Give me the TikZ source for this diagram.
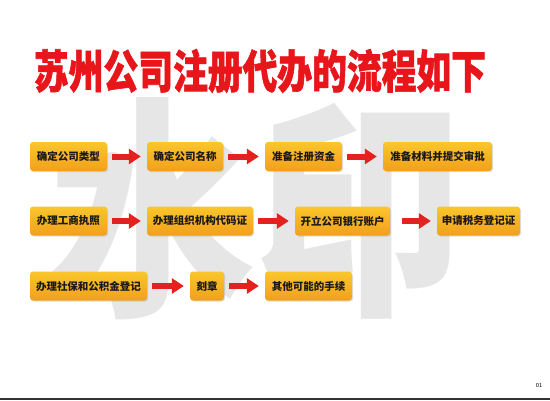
\documentclass[tikz,border=0pt]{standalone}
\usepackage{fontspec}
\setmainfont{Noto Sans CJK SC}
\newfontfamily\cjk{Noto Sans CJK SC}
\newfontfamily\cjkheavy{Noto Sans CJK SC}[BoldFeatures={FakeBold=1.5}]
\usetikzlibrary{arrows.meta,shadows}
\definecolor{titlered}{HTML}{E8161B}
\definecolor{boxtop}{HTML}{FAC62C}
\definecolor{boxbot}{HTML}{F1A01C}
\definecolor{arrowred}{HTML}{E4211C}
\definecolor{wmgrey}{HTML}{E6E6E6}
\tikzset{
  stepbox/.style={rounded corners=3pt, top color=boxtop, bottom color=boxbot,
    draw=none, minimum height=29pt, inner sep=0pt,
    font=\cjk\bfseries\fontsize{10.5}{12}\selectfont, text=black!90,
    drop shadow={opacity=0.25, shadow xshift=1pt, shadow yshift=-1pt}},
  flow/.style={draw=arrowred, line width=6pt,
    -{Triangle[length=12pt,width=15pt]}, shorten <=5pt, shorten >=6pt}
}
\begin{document}
\begin{tikzpicture}[x=1pt,y=-1pt]
\useasboundingbox (0,0) rectangle (550,400);
\fill[white] (0,0) rectangle (550,400);
% watermark
\node[text=wmgrey, font=\cjk\bfseries\fontsize{234}{234}\selectfont, xscale=0.89, inner sep=0pt] (wm) at (256,209) {水印};
% title
\node[text=titlered, font=\cjkheavy\bfseries\fontsize{32.5}{36}\selectfont, xscale=1.07, yscale=1.4, inner sep=0pt] (title) at (260,71) {苏州公司注册代办的流程如下};
% row 1
\node[stepbox, minimum width=77pt] (b1) at (68.5,156.5) {确定公司类型};
\node[stepbox, minimum width=76pt] (b2) at (185,156.5) {确定公司名称};
\node[stepbox, minimum width=77pt] (b3) at (303.5,156.5) {准备注册资金};
\node[stepbox, minimum width=109pt] (b4) at (437.5,156.5) {准备材料并提交审批};
% row 2
\node[stepbox, minimum width=77pt] (b5) at (68.5,221) {办理工商执照};
\node[stepbox, minimum width=106pt] (b6) at (200,221) {办理组织机构代码证};
\node[stepbox, minimum width=95pt] (b7) at (342.5,221) {开立公司银行账户};
\node[stepbox, minimum width=83pt] (b8) at (478.5,221) {申请税务登记证};
% row 3
\node[stepbox, minimum width=117pt] (b9) at (88.5,286) {办理社保和公积金登记};
\node[stepbox, minimum width=34pt] (b10) at (207,286) {刻章};
\node[stepbox, minimum width=87pt] (b11) at (308.5,286) {其他可能的手续};
% arrows
\draw[flow] (b1) -- (b2);
\draw[flow] (b2) -- (b3);
\draw[flow] (b3) -- (b4);
\draw[flow] (b5) -- (b6);
\draw[flow] (b6) -- (b7);
\draw[flow, shorten <=12pt] (b7) -- (b8);
\draw[flow] (b9) -- (b10);
\draw[flow] (b10) -- (b11);
% page number and bottom rule
\node[font=\sffamily\fontsize{6}{7}\selectfont, inner sep=0pt] (pg) at (539,386) {01};
\fill[black!80] (0,398) rectangle (550,400);
\end{tikzpicture}
\end{document}
